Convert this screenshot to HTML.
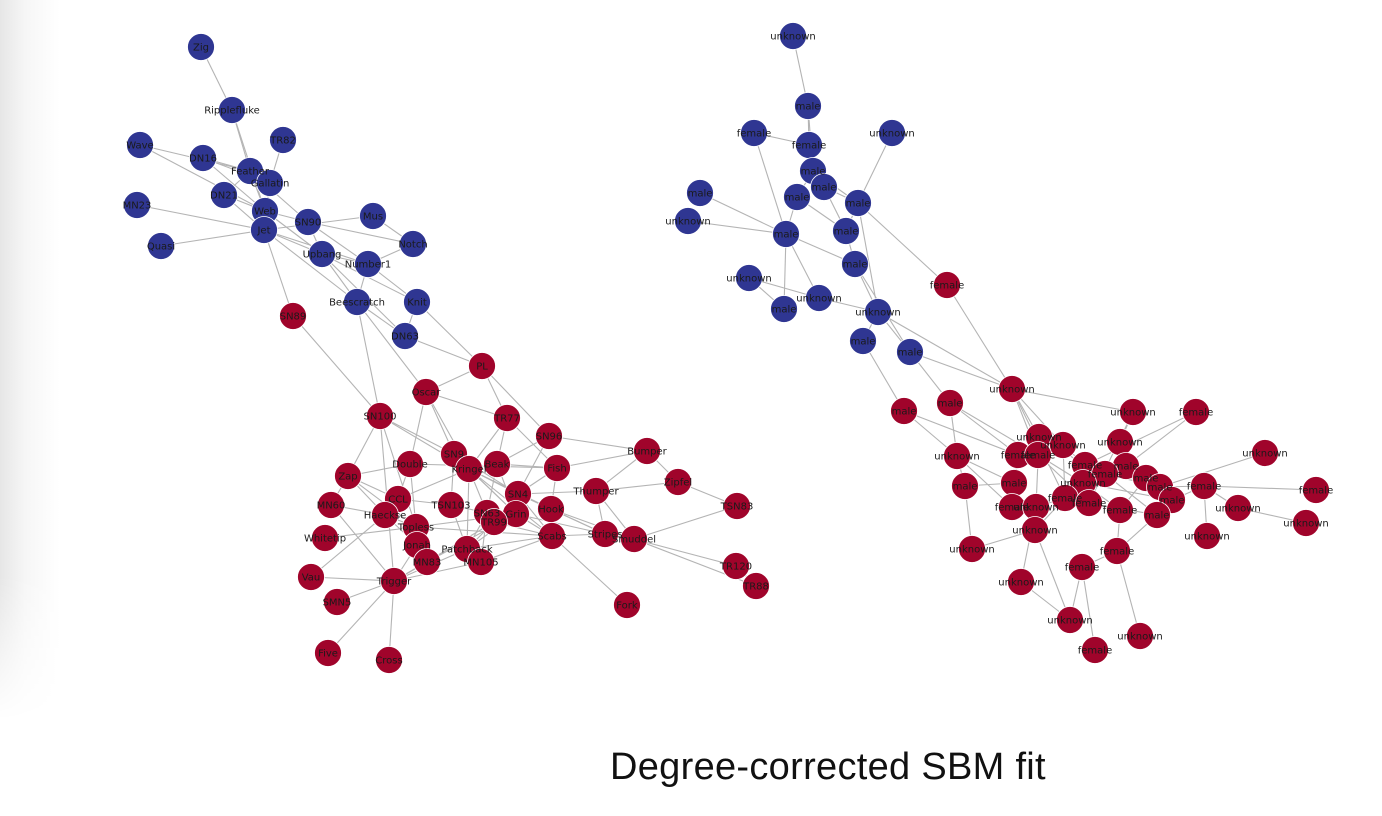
<!DOCTYPE html>
<html><head><meta charset="utf-8">
<style>
html,body{margin:0;padding:0;width:1382px;height:816px;overflow:hidden;background:#fff;}
#shade{position:absolute;left:0;top:0;width:60px;height:720px;background:linear-gradient(to right,#e6e6e6,#f6f6f6 25px,#fff 60px);-webkit-mask-image:linear-gradient(to bottom,#000 80%,transparent 100%);mask-image:linear-gradient(to bottom,#000 80%,transparent 100%);}
svg{position:absolute;left:0;top:0;}
#title{position:absolute;left:610px;top:746px;font-family:"Liberation Sans",sans-serif;font-size:38px;color:#111;font-weight:300;letter-spacing:0.3px;white-space:nowrap;}
</style></head>
<body>
<div id="shade"></div>
<svg id="g" width="1382" height="816"></svg>
<div id="title">Degree-corrected SBM fit</div>
<script>
const leftNodes = [
["Zig",201,47,"B"],["Ripplefluke",232,110,"B"],["TR82",283,140,"B"],["Wave",140,145,"B"],["DN16",203,158,"B"],
["Feather",250,171,"B"],["Gallatin",270,183,"B"],["DN21",224,195,"B"],["MN23",137,205,"B"],["Web",265,211,"B"],
["SN90",308,222,"B"],["Mus",373,216,"B"],["Jet",264,230,"B"],["Quasi",161,246,"B"],["Notch",413,244,"B"],
["Upbang",322,254,"B"],["Number1",368,264,"B"],["Beescratch",357,302,"B"],["Knit",417,302,"B"],["DN63",405,336,"B"],
["SN89",293,316,"R"],["PL",482,366,"R"],["Oscar",426,392,"R"],["SN100",380,416,"R"],["TR77",507,418,"R"],
["SN96",549,436,"R"],["Bumper",647,451,"R"],["SN9",454,454,"R"],["Double",410,464,"R"],["Kringel",469,469,"R"],
["Beak",497,464,"R"],["Fish",557,468,"R"],["Zap",348,476,"R"],["Zipfel",678,482,"R"],["Thumper",596,491,"R"],
["SN4",518,494,"R"],["CCL",398,499,"R"],["TSN103",451,505,"R"],["Hook",551,509,"R"],["TSN83",737,506,"R"],
["MN60",331,505,"R"],["Haeckse",385,515,"R"],["Grin",516,514,"R"],["SN63",487,513,"R"],["TR99",494,522,"R"],
["Topless",416,527,"R"],["Stripes",605,534,"R"],["Scabs",552,536,"R"],["Whitetip",325,538,"R"],["Smuddel",634,539,"R"],
["Jonah",417,545,"R"],["Patchback",467,549,"R"],["MN83",427,562,"R"],["MN105",481,562,"R"],["TR120",736,566,"R"],
["Vau",311,577,"R"],["Trigger",394,581,"R"],["TR88",756,586,"R"],["SMN5",337,602,"R"],["Fork",627,605,"R"],
["Five",328,653,"R"],["Cross",389,660,"R"]];
const leftEdges = "Zig-Ripplefluke,Ripplefluke-Feather,Ripplefluke-Web,TR82-Gallatin,Wave-Feather,Wave-Web,DN16-Feather,DN16-Web,DN16-Gallatin,Feather-Gallatin,Feather-Web,Feather-SN90,Gallatin-Web,Gallatin-Jet,DN21-Web,DN21-Jet,DN21-Feather,MN23-Jet,Web-Jet,Web-SN90,Web-Upbang,Jet-Quasi,Jet-Mus,Jet-Upbang,Jet-Number1,Jet-SN89,Jet-Beescratch,SN90-Upbang,SN90-Notch,SN90-Number1,Upbang-Beescratch,Upbang-Number1,Upbang-DN63,Upbang-Knit,Number1-Beescratch,Number1-Notch,Number1-Knit,Beescratch-SN100,Beescratch-DN63,Beescratch-Oscar,Knit-PL,Knit-DN63,Mus-Notch,DN63-PL,SN89-SN100,PL-Oscar,PL-TR77,PL-SN96,Oscar-SN9,Oscar-TR77,Oscar-Double,Oscar-Kringel,SN100-Zap,SN100-Kringel,SN100-SN9,SN100-Trigger,SN100-Topless,TR77-Kringel,TR77-Beak,TR77-Fish,SN96-Bumper,SN96-SN4,SN96-Beak,Bumper-Zipfel,Bumper-Thumper,Bumper-Fish,Zipfel-TSN83,Zipfel-Thumper,SN9-Kringel,SN9-TSN103,SN9-Grin,SN9-SN4,Kringel-Beak,Kringel-SN4,Kringel-Grin,Kringel-Hook,Kringel-Scabs,Kringel-SN63,Kringel-CCL,Kringel-Patchback,Double-Zap,Double-Fish,Double-Topless,Double-CCL,Beak-Fish,Beak-SN63,Beak-Grin,Fish-Hook,Fish-SN4,Zap-Haeckse,Zap-MN60,Zap-CCL,Zap-Topless,Thumper-Stripes,Thumper-SN4,Thumper-Smuddel,SN4-Grin,SN4-Scabs,SN4-Hook,SN4-Stripes,CCL-TSN103,CCL-Haeckse,TSN103-SN63,TSN103-Patchback,Hook-Scabs,Hook-Stripes,Hook-Smuddel,TSN83-Smuddel,MN60-Trigger,MN60-Haeckse,Haeckse-Topless,Haeckse-Jonah,Haeckse-Vau,Grin-Scabs,Grin-Stripes,Grin-Topless,Grin-Patchback,Grin-MN83,SN63-Patchback,SN63-MN105,TR99-Patchback,TR99-Trigger,TR99-Scabs,Topless-Jonah,Topless-Whitetip,Topless-Scabs,Stripes-Scabs,Stripes-Smuddel,Scabs-Fork,Scabs-Patchback,Scabs-MN105,Smuddel-TR120,Smuddel-TR88,Jonah-MN83,Jonah-Trigger,Patchback-MN105,Patchback-Trigger,MN83-Trigger,MN105-Trigger,Vau-Trigger,Trigger-SMN5,Trigger-Five,Trigger-Cross,TR120-TR88".split(",");
const rightNodes = [
["unknown",793,36,"B"],["male",808,106,"B"],["female",754,133,"B"],["female",809,145,"B"],["unknown",892,133,"B"],
["male",813,171,"B"],["male",824,187,"B"],["male",700,193,"B"],["male",797,197,"B"],["male",858,203,"B"],
["unknown",688,221,"B"],["male",846,231,"B"],["male",786,234,"B"],["male",855,264,"B"],["unknown",749,278,"B"],
["female",947,285,"R"],["unknown",819,298,"B"],["male",784,309,"B"],["unknown",878,312,"B"],["male",863,341,"B"],
["male",910,352,"B"],["unknown",1012,389,"R"],["male",904,411,"R"],["male",950,403,"R"],["unknown",1133,412,"R"],
["female",1196,412,"R"],["unknown",1039,437,"R"],["unknown",1120,442,"R"],["unknown",1063,445,"R"],["female",1018,455,"R"],
["female",1038,455,"R"],["unknown",957,456,"R"],["unknown",1265,453,"R"],["female",1085,465,"R"],["male",1126,466,"R"],
["female",1105,474,"R"],["male",1146,478,"R"],["unknown",1083,483,"R"],["male",1160,487,"R"],["male",965,486,"R"],
["male",1014,483,"R"],["female",1204,486,"R"],["female",1316,490,"R"],["male",1172,500,"R"],["female",1065,498,"R"],
["female",1089,503,"R"],["female",1012,507,"R"],["unknown",1036,507,"R"],["female",1120,510,"R"],["male",1157,515,"R"],
["unknown",1238,508,"R"],["unknown",1306,523,"R"],["unknown",1035,530,"R"],["unknown",1207,536,"R"],["unknown",972,549,"R"],
["female",1117,551,"R"],["female",1082,567,"R"],["unknown",1021,582,"R"],["unknown",1070,620,"R"],["unknown",1140,636,"R"],
["female",1095,650,"R"]];
const rightEdges = [[0,1],[1,3],[1,5],[2,3],[2,12],[3,5],[3,6],[4,9],[5,8],[5,9],[6,9],[6,11],[7,12],[8,12],[8,11],[9,11],[9,18],[10,12],[11,13],[12,13],[12,16],[12,17],[13,18],[13,20],[14,16],[14,17],[16,18],[18,19],[18,20],[18,21],[19,22],[20,21],[20,23],[15,21],[15,9],[21,26],[21,28],[21,30],[21,24],[22,31],[23,29],[23,31],[23,30],[24,45],[24,27],[25,33],[26,33],[26,30],[27,34],[28,33],[29,30],[29,40],[30,37],[31,39],[31,46],[32,38],[33,36],[33,34],[34,36],[35,38],[36,43],[37,44],[37,45],[37,48],[38,41],[39,40],[39,54],[40,46],[41,42],[41,43],[41,53],[41,50],[43,49],[44,47],[44,52],[45,48],[46,47],[47,57],[48,55],[49,55],[50,51],[52,54],[52,58],[55,56],[55,59],[56,58],[56,60],[57,58],[33,38],[35,49],[36,48],[37,43],[30,45],[26,47],[28,44],[29,46],[31,40],[45,49],[25,34],[21,44],[22,29]];

const NS="http://www.w3.org/2000/svg";
const svg=document.getElementById('g');
const COL={B:"#2f3692",R:"#a0042b"};
function mk(t,a){const e=document.createElementNS(NS,t);for(const k in a)e.setAttribute(k,a[k]);return e;}
const eg=mk('g',{});


svg.appendChild(eg);
const ng=mk('g',{});


svg.appendChild(ng);
function drawEdge(a,b){
  const l=mk('line',{x1:a[1],y1:a[2],x2:b[1],y2:b[2],stroke:"#b4b4b4","stroke-width":1.1});
  
  
  eg.appendChild(l);
}
const byName={};leftNodes.forEach(n=>byName[n[0]]=n);
leftEdges.forEach(s=>{const [a,b]=s.split('-');if(byName[a]&&byName[b])drawEdge(byName[a],byName[b]);});
rightEdges.forEach(p=>drawEdge(rightNodes[p[0]],rightNodes[p[1]]));
function drawNode(n){
  const c=mk('circle',{cx:n[1],cy:n[2],r:13.5,fill:COL[n[3]],stroke:"#ffffff","stroke-width":0.8});
  
  
  ng.appendChild(c);
}
function drawLabel(n){
  const t=mk('text',{x:n[1],y:n[2]+3.5,"text-anchor":"middle","font-family":"DejaVu Sans, Liberation Sans, sans-serif","font-size":10,fill:"#1a1a1a"});
  t.textContent=n[0];
  
  
  ng.appendChild(t);
}
leftNodes.forEach(drawNode);rightNodes.forEach(drawNode);
leftNodes.forEach(drawLabel);rightNodes.forEach(drawLabel);
</script>
</body></html>
